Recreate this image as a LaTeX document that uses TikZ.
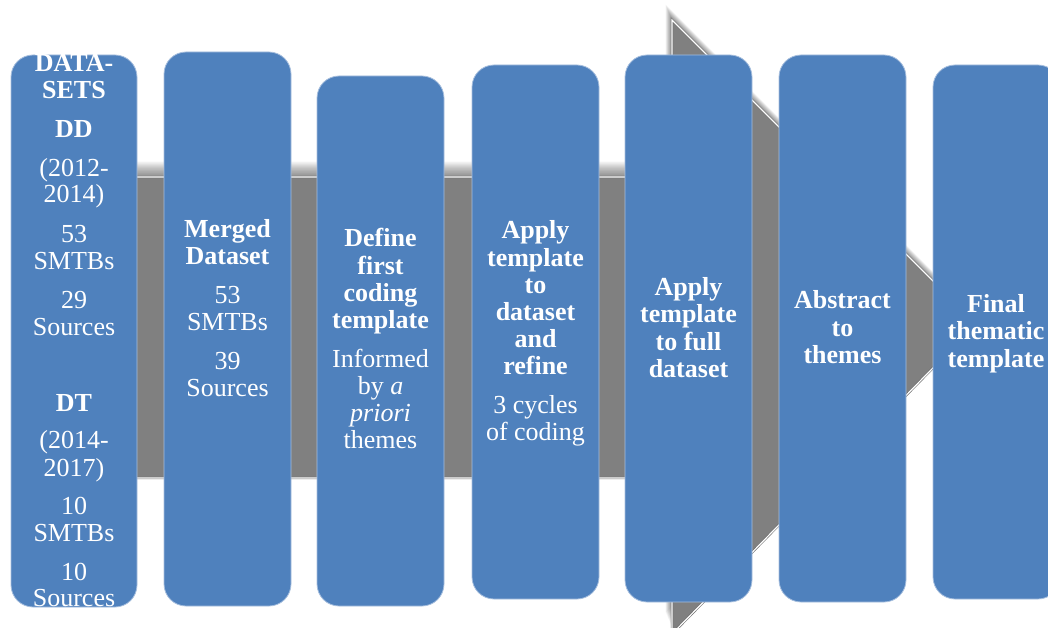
\documentclass[tikz,border=0pt]{standalone}
\usepackage{fontspec}
\setmainfont{Liberation Serif}
\definecolor{boxblue}{HTML}{4F81BD}
\definecolor{boxedge}{HTML}{A7BFDE}
\definecolor{arrowgrey}{HTML}{808080}
\begin{document}
\begin{tikzpicture}[x=1pt,y=-1pt,
  stepbox/.style={fill=boxblue, draw=boxedge, line width=0.8pt, rounded corners=22pt, inner sep=0pt, minimum width=127pt},
  lbl/.style={text=white, font=\fontsize{26}{27}\selectfont, inner sep=0pt, anchor=base},
  arrowbody/.style={fill=arrowgrey, draw=arrowgrey!85!black, line width=0.6pt, double=white, double distance=1.2pt}
]
\useasboundingbox (0,0) rectangle (1048,628);
\clip (0,0) rectangle (1048,628);
% soft shadow of the big arrow
\foreach \i in {1,...,14}
  \fill[black, opacity=0.04, shift={(-0.45*\i,-1.1*\i)}]
    (40,177) -- (672,177) -- (672,20) -- (976,324) -- (672,628) -- (672,478) -- (40,478) -- cycle;
% big grey arrow
\path[arrowbody]
  (40,177) -- (672,177) -- (672,20) -- (976,324) -- (672,634) -- (672,478) -- (40,478) -- cycle;
% boxes
\node[stepbox, minimum width=126pt, minimum height=552pt] (b1) at (74,331) {};
\node[stepbox, minimum height=554pt] (b2) at (227.5,329) {};
\node[stepbox, minimum height=530pt] (b3) at (380.5,341) {};
\node[stepbox, minimum height=534pt] (b4) at (535.5,332) {};
\node[stepbox, minimum height=547pt] (b5) at (688.5,328.5) {};
\node[stepbox, minimum height=547pt] (b6) at (842.5,328.5) {};
\node[stepbox, minimum height=534pt] (b7) at (996.5,332) {};
% texts
\foreach \y/\t [count=\k] in {72/{\bfseries DATA-}, 99/{\bfseries SETS}, 138/{\bfseries DD},
  177/{(2012-}, 203/{2014)}, 242/{53}, 269/{SMTBs}, 308/{29}, 335/{Sources},
  411/{\bfseries DT}, 448/{(2014-}, 476/{2017)}, 514/{10}, 541/{SMTBs}, 580/{10}, 606/{Sources}}
  \node[lbl, name=t1\k] at (74,\y) {\t};
\foreach \y/\t [count=\k] in {237/{\bfseries Merged}, 264/{\bfseries Dataset},
  303/{53}, 330/{SMTBs}, 369/{39}, 396/{Sources}}
  \node[lbl, name=t2\k] at (227.5,\y) {\t};
\foreach \y/\t [count=\k] in {247/{\bfseries Define}, 274/{\bfseries first}, 301/{\bfseries coding},
  328/{\bfseries template}, 367/{Informed}, 394/{by \textit{a}}, 421/{\textit{priori}}, 448/{themes}}
  \node[lbl, name=t3\k] at (380.5,\y) {\t};
\foreach \y/\t [count=\k] in {239/{\bfseries Apply}, 266/{\bfseries template}, 293/{\bfseries to},
  320/{\bfseries dataset}, 347/{\bfseries and}, 374/{\bfseries refine}, 413/{3 cycles}, 440/{of coding}}
  \node[lbl, name=t4\k] at (535.5,\y) {\t};
\foreach \y/\t [count=\k] in {295/{\bfseries Apply}, 322/{\bfseries template},
  350/{\bfseries to full}, 377/{\bfseries dataset}}
  \node[lbl, name=t5\k] at (688.5,\y) {\t};
\foreach \y/\t [count=\k] in {308/{\bfseries Abstract}, 336/{\bfseries to}, 363/{\bfseries themes}}
  \node[lbl, name=t6\k] at (842.5,\y) {\t};
\foreach \y/\t [count=\k] in {312/{\bfseries Final}, 339/{\bfseries thematic}, 367/{\bfseries template}}
  \node[lbl, name=t7\k] at (996,\y) {\t};
\end{tikzpicture}
\end{document}
